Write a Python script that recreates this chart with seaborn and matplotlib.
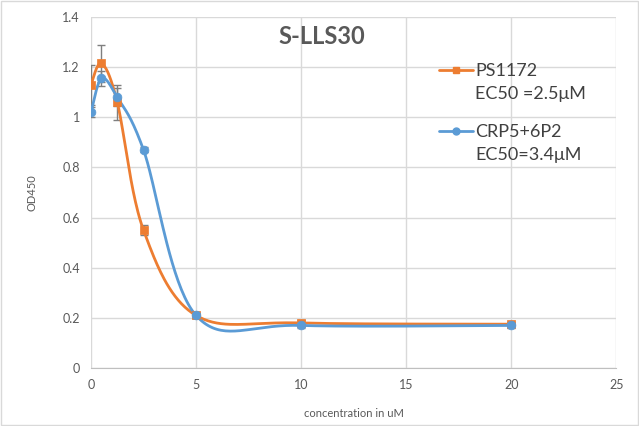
import numpy as np
import pandas as pd
import matplotlib
matplotlib.use("Agg")
import matplotlib.pyplot as plt
import seaborn as sns
from matplotlib.patches import Rectangle

# values
conc = [0, 0.5, 1.25, 2.5, 5, 10, 20]
ps1172 = [1.13, 1.215, 1.06, 0.55, 0.21, 0.18, 0.175]
ps1172_err = [0.08, 0.075, 0.07, 0.02, 0.01, 0.01, 0.01]
crp = [1.02, 1.155, 1.08, 0.87, 0.21, 0.17, 0.17]
crp_err = [0.02, 0.03, 0.035, 0.01, 0.01, 0.01, 0.01]
names = ["PS1172", "CRP5+6P2"]
ec50 = ["EC50 =2.5μM", "EC50=3.4μM"]
colors = ["#ED7D31", "#5B9BD5"]
xticks = [0, 5, 10, 15, 20, 25]
yticks = [0, 0.2, 0.4, 0.6, 0.8, 1.0, 1.2, 1.4]


def excel_smooth(x, y, n=40):
    # bezier pieces with catmull-rom style control points, like Excel's smoothed line
    x = np.asarray(x, float)
    y = np.asarray(y, float)
    px = np.concatenate([[x[0]], x, [x[-1]]])
    py = np.concatenate([[y[0]], y, [y[-1]]])
    t = np.linspace(0, 1, n)[:, None]
    out = []
    for i in range(1, len(px) - 2):
        p0 = np.array([px[i], py[i]])
        p3 = np.array([px[i + 1], py[i + 1]])
        p1 = p0 + (np.array([px[i + 1], py[i + 1]]) - np.array([px[i - 1], py[i - 1]])) / 6
        p2 = p3 - (np.array([px[i + 2], py[i + 2]]) - np.array([px[i], py[i]])) / 6
        seg = (1 - t) ** 3 * p0 + 3 * (1 - t) ** 2 * t * p1 + 3 * (1 - t) * t ** 2 * p2 + t ** 3 * p3
        out.append(seg)
    pts = np.vstack(out)
    return pts[:, 0], pts[:, 1]


sns.set_style("white")
plt.rcParams["font.family"] = ["Lato", "DejaVu Sans"]

fig = plt.figure(figsize=(6.39, 4.26), dpi=100)
ax = fig.add_axes([0.1424, 0.136, 0.822, 0.824])

series = [(ps1172, ps1172_err, "s"), (crp, crp_err, "o")]
for (vals, errs, mk), lab, col in zip(series, names, colors):
    sx, sy = excel_smooth(conc, vals)
    curve = pd.DataFrame({"x": sx, "y": sy})
    sns.lineplot(data=curve, x="x", y="y", sort=False, color=col, lw=2, ax=ax, zorder=3)
    ax.errorbar(conc, vals, yerr=errs, fmt="none", ecolor="#7f7f7f", elinewidth=1,
                capsize=3, capthick=1, zorder=2)
    pts = pd.DataFrame({"x": conc, "y": vals})
    sns.scatterplot(data=pts, x="x", y="y", marker=mk, color=col, s=40,
                    edgecolor=col, ax=ax, zorder=4)
    ax.plot([], [], color=col, lw=2, marker=mk, markersize=5, label=lab)

ax.set_xlim(0, 25)
ax.set_ylim(0, 1.4)
ax.set_xticks(xticks)
ax.set_yticks(yticks)
ax.set_yticklabels(["0", "0.2", "0.4", "0.6", "0.8", "1", "1.2", "1.4"])
ax.grid(True, color="#d9d9d9", lw=1)
ax.set_axisbelow(True)
for s in ["top", "right", "left"]:
    ax.spines[s].set_visible(False)
ax.spines["bottom"].set_color("#bfbfbf")
ax.tick_params(axis="both", length=0, labelsize=9, colors="#595959", pad=8)

ax.set_xlabel("concentration in uM", fontsize=8, color="#595959", labelpad=12)
ax.set_ylabel("OD450", fontsize=8, color="#595959", labelpad=18)
ax.text(0.44, 0.945, "S-LLS30", transform=ax.transAxes, fontsize=17,
        fontweight="bold", color="#595959", ha="center", va="center")

leg = ax.legend(loc="upper left", bbox_to_anchor=(0.645, 0.895), frameon=False,
                fontsize=13, labelspacing=2.5, handlelength=1.9, handletextpad=0.1,
                labelcolor="#404040", borderpad=0)
fig.canvas.draw()
for t, extra in zip(leg.get_texts(), ec50):
    ax.annotate(extra, xy=(0, 0), xycoords=t, xytext=(0, -5), textcoords="offset points",
                fontsize=13, color="#404040", ha="left", va="top")

fig.patches.append(Rectangle((0.001, 0.002), 0.997, 0.995, transform=fig.transFigure,
                             fill=False, edgecolor="#d9d9d9", lw=1))

fig.savefig("out.png", dpi=100)
